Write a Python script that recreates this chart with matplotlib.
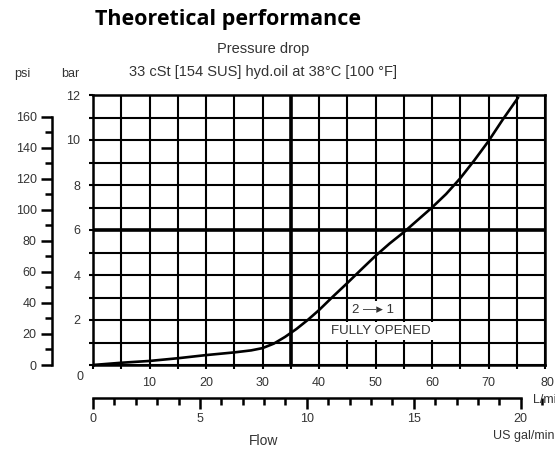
import matplotlib.pyplot as plt
from matplotlib.ticker import MultipleLocator, FixedLocator

# flow [L/min] vs pressure drop [bar]
flow_lpm = [0, 5, 10, 15, 20, 25, 28, 30, 32, 34, 36, 38, 40, 42.5, 45, 47.5,
            50, 52.5, 55, 57.5, 60, 62.5, 65, 67.5, 70, 72.5, 75.2]
dp_bar = [0, 0.1, 0.18, 0.3, 0.44, 0.56, 0.65, 0.75, 0.95, 1.25, 1.6, 2.0, 2.44, 3.05, 3.64, 4.25,
          4.85, 5.4, 5.9, 6.45, 7.0, 7.6, 8.3, 9.1, 9.95, 10.9, 11.87]

bar_labels = [2, 4, 6, 8, 10, 12]
lpm_labels = [10, 20, 30, 40, 50, 60, 70]
psi_labels = [0, 20, 40, 60, 80, 100, 120, 140, 160]
psi_minor = [10, 30, 50, 70, 90, 110, 130, 150]
gpm_labels = [0, 5, 10, 15, 20]

PSI_PER_BAR = 14.5038
LPM_PER_GPM = 3.78541

txt = '#333333'
plt.rcParams['font.family'] = ['Liberation Sans', 'DejaVu Sans']

W, H = 555, 450
fig = plt.figure(figsize=(W / 100, H / 100), dpi=100)

def px(x0, y0, x1, y1):
    # pixel box (top-left origin) -> figure fraction
    return [x0 / W, 1 - y1 / H, (x1 - x0) / W, (y1 - y0) / H]

ax = fig.add_axes(px(93, 95, 545, 365))
ax.set_xlim(0, 80)
ax.set_ylim(0, 12)
ax.xaxis.set_major_locator(MultipleLocator(5))
ax.yaxis.set_major_locator(MultipleLocator(1))
ax.grid(True, color='black', lw=1.5)
ax.tick_params(length=3, width=1.5, color='black', labelsize=9, labelcolor=txt)
ax.set_xticklabels(['' if (v not in lpm_labels) else str(int(v)) for v in ax.get_xticks()])
ax.set_yticklabels(['' if (v not in bar_labels) else str(int(v)) for v in ax.get_yticks()])
ax.tick_params(axis='y', pad=6)
ax.tick_params(axis='x', pad=6)
for s in ax.spines.values():
    s.set_linewidth(1.8)
ax.axhline(6, color='black', lw=2.6)
ax.axvline(35, color='black', lw=2.6)

ax.plot(flow_lpm, dp_bar, color='black', lw=1.9, zorder=5)

ax.text(49.6, 2.45, '2 \u2014\u25b8 1', ha='center', va='center', fontsize=9.5, color=txt,
        bbox=dict(facecolor='white', edgecolor='none', pad=2), zorder=6)
ax.text(51, 1.5, 'FULLY OPENED', ha='center', va='center', fontsize=9.5, color=txt,
        bbox=dict(facecolor='white', edgecolor='none', pad=2), zorder=6)

# psi scale
ax_psi = fig.add_axes(px(52, 95, 53, 365))
ax_psi.set_ylim(0, 12 * PSI_PER_BAR)
ax_psi.set_xticks([])
for k in ['top', 'right', 'bottom']:
    ax_psi.spines[k].set_visible(False)
ax_psi.spines['left'].set_bounds(0, 160)
ax_psi.spines['left'].set_linewidth(1.8)
ax_psi.patch.set_visible(False)
ax_psi.yaxis.set_major_locator(FixedLocator(psi_labels))
ax_psi.yaxis.set_minor_locator(FixedLocator(psi_minor))
ax_psi.tick_params(axis='y', which='major', length=8, width=1.8, labelsize=9, labelcolor=txt, pad=3)
ax_psi.tick_params(axis='y', which='minor', length=5, width=1.8)

# US gal/min scale
ax_gpm = fig.add_axes(px(93, 397, 545, 398))
ax_gpm.set_xlim(0, 80 / LPM_PER_GPM)
ax_gpm.set_yticks([])
for k in ['top', 'right', 'left']:
    ax_gpm.spines[k].set_visible(False)
ax_gpm.spines['bottom'].set_bounds(0, 20)
ax_gpm.spines['bottom'].set_linewidth(1.8)
ax_gpm.patch.set_visible(False)
ax_gpm.xaxis.set_major_locator(FixedLocator(gpm_labels))
ax_gpm.xaxis.set_minor_locator(MultipleLocator(1))
ax_gpm.tick_params(axis='x', which='major', length=8, width=1.8, labelsize=9, labelcolor=txt, pad=3)
ax_gpm.tick_params(axis='x', which='minor', length=5, width=1.8)

# texts
fig.text(95 / W, 1 - 20 / H, 'Theoretical performance', fontsize=15.5, fontweight='bold',
         family=['Open Sans', 'DejaVu Sans'], color='black', ha='left', va='center')
fig.text(263 / W, 1 - 49 / H, 'Pressure drop', fontsize=10.5, color=txt, ha='center', va='center')
fig.text(263 / W, 1 - 72 / H, '33 cSt [154 SUS] hyd.oil at 38\u00b0C [100 \u00b0F]', fontsize=10.5,
         color=txt, ha='center', va='center')
fig.text(22 / W, 1 - 74 / H, 'psi', fontsize=9, color=txt, ha='center', va='center')
fig.text(70 / W, 1 - 74 / H, 'bar', fontsize=9, color=txt, ha='center', va='center')
fig.text(80 / W, 1 - 377 / H, '0', fontsize=9, color=txt, ha='center', va='center')
fig.text(547 / W, 1 - 383 / H, '80', fontsize=9, color=txt, ha='center', va='center')
fig.text(533 / W, 1 - 400 / H, 'L/min', fontsize=9, color=txt, ha='left', va='center')
fig.text(493 / W, 1 - 436 / H, 'US gal/min', fontsize=9, color=txt, ha='left', va='center')
fig.text(264 / W, 1 - 441 / H, 'Flow', fontsize=10, color=txt, ha='center', va='center')

fig.savefig('out.png', dpi=100)
